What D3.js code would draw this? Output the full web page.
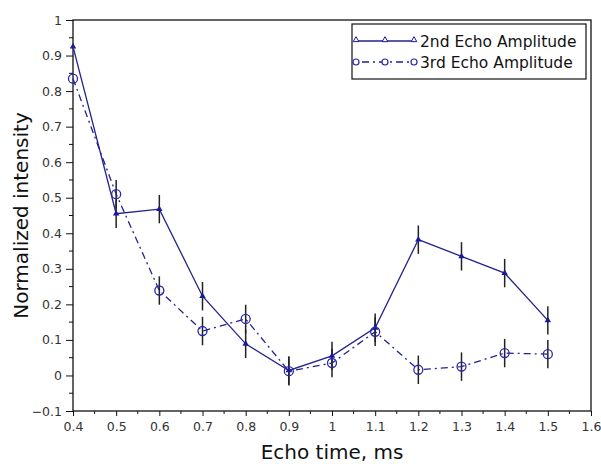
<!DOCTYPE html>
<html>
<head>
<meta charset="utf-8">
<script src="https://cdn.jsdelivr.net/npm/d3@7"></script>
<style>
  body { margin: 0; background: #fff; }
  text { font-family: "DejaVu Sans", sans-serif; }
</style>
</head>
<body>
<svg id="chart" width="601" height="464"></svg>
<script>
// Data
const echoTimes = [0.4, 0.5, 0.6, 0.7, 0.8, 0.9, 1.0, 1.1, 1.2, 1.3, 1.4, 1.5];
const echo2 = [0.925, 0.455, 0.468, 0.223, 0.089, 0.014, 0.055, 0.134, 0.382, 0.335, 0.288, 0.155];
const echo3 = [0.835, 0.51, 0.239, 0.125, 0.159, 0.012, 0.035, 0.123, 0.016, 0.025, 0.063, 0.06];
const err2 = [0, 0.04, 0.04, 0.04, 0.04, 0.04, 0.04, 0.04, 0.04, 0.04, 0.04, 0.04];
const err3 = [0, 0.04, 0.04, 0.04, 0.04, 0.04, 0.04, 0.04, 0.04, 0.04, 0.04, 0.04];
const xTicks = [0.4, 0.5, 0.6, 0.7, 0.8, 0.9, 1, 1.1, 1.2, 1.3, 1.4, 1.5, 1.6];
const yTicks = [-0.1, 0, 0.1, 0.2, 0.3, 0.4, 0.5, 0.6, 0.7, 0.8, 0.9, 1];
const seriesNames = ["2nd Echo Amplitude", "3rd Echo Amplitude"];

const svg = d3.select("#chart");
const margin = { top: 20, right: 10, bottom: 53, left: 73 };
const width = 601, height = 464;
const lineColor = "#23238c";

const x = d3.scaleLinear().domain([0.4, 1.6]).range([margin.left, width - margin.right]);
const y = d3.scaleLinear().domain([-0.1, 1]).range([height - margin.bottom, margin.top]);

// Frame
svg.append("rect")
  .attr("x", x(0.4)).attr("y", y(1))
  .attr("width", x(1.6) - x(0.4)).attr("height", y(-0.1) - y(1))
  .attr("fill", "none").attr("stroke", "#111").attr("stroke-width", 1.3);

// Minor ticks
const xMinor = d3.range(0.45, 1.6, 0.1);
const yMinor = d3.range(-0.05, 1, 0.1);
svg.append("g").selectAll("line").data(xMinor).join("line")
  .attr("x1", d => x(d)).attr("x2", d => x(d))
  .attr("y1", y(-0.1)).attr("y2", y(-0.1) + 3)
  .attr("stroke", "#111");
svg.append("g").selectAll("line").data(yMinor).join("line")
  .attr("x1", x(0.4) - 4).attr("x2", x(0.4))
  .attr("y1", d => y(d)).attr("y2", d => y(d))
  .attr("stroke", "#111");

// Axes
const xAxis = svg.append("g")
  .attr("transform", `translate(0,${y(-0.1)})`)
  .call(d3.axisBottom(x).tickValues(xTicks).tickSize(5).tickPadding(6).tickFormat(d3.format("")));
const yAxis = svg.append("g")
  .attr("transform", `translate(${x(0.4)},0)`)
  .call(d3.axisLeft(y).tickValues(yTicks).tickSize(7).tickPadding(4).tickFormat(d3.format("")));
[xAxis, yAxis].forEach(g => {
  g.select(".domain").remove();
  g.selectAll(".tick line").attr("stroke", "#111");
  g.selectAll(".tick text").attr("fill", "#333").style("font-size", "12.5px")
    .style("font-family", "DejaVu Sans, sans-serif");
});
yAxis.selectAll(".tick text").text(d => d < 0 ? "\u22120.1" : d3.format("")(d));

// Axis titles
svg.append("text")
  .attr("x", (x(0.4) + x(1.6)) / 2).attr("y", 459)
  .attr("text-anchor", "middle").style("font-size", "20px").attr("fill", "#111")
  .text("Echo time, ms");
svg.append("text")
  .attr("transform", `translate(28,${(y(1) + y(-0.1)) / 2}) rotate(-90)`)
  .attr("text-anchor", "middle").style("font-size", "20px").attr("fill", "#111")
  .text("Normalized intensity");

const pts2 = echoTimes.map((t, i) => ({ t, v: echo2[i], e: err2[i] }));
const pts3 = echoTimes.map((t, i) => ({ t, v: echo3[i], e: err3[i] }));
const line = d3.line().x(d => x(d.t)).y(d => y(d.v));

// Error bars
[pts2, pts3].forEach(pts => {
  svg.append("g").selectAll("line").data(pts.filter(d => d.e > 0)).join("line")
    .attr("x1", d => x(d.t)).attr("x2", d => x(d.t))
    .attr("y1", d => y(d.v - d.e)).attr("y2", d => y(d.v + d.e))
    .attr("stroke", "#222").attr("stroke-width", 1.5);
});

// Lines
svg.append("path").datum(pts2).attr("d", line)
  .attr("fill", "none").attr("stroke", lineColor).attr("stroke-width", 1.3);
svg.append("path").datum(pts3).attr("d", line)
  .attr("fill", "none").attr("stroke", lineColor).attr("stroke-width", 1.3)
  .attr("stroke-dasharray", "7,4,2,4");

// Markers
const tri = d3.symbol().type(d3.symbolTriangle).size(18);
svg.append("g").selectAll("path").data(pts2).join("path")
  .attr("transform", d => `translate(${x(d.t)},${y(d.v)})`)
  .attr("d", tri).attr("fill", "#1a1aa0");
svg.append("g").selectAll("circle").data(pts3).join("circle")
  .attr("cx", d => x(d.t)).attr("cy", d => y(d.v)).attr("r", 4.5)
  .attr("fill", "none").attr("stroke", "#2828a8").attr("stroke-width", 1.3);

// Legend
const lg = svg.append("g");
lg.append("rect").attr("x", 352).attr("y", 24).attr("width", 234).attr("height", 55)
  .attr("fill", "#fff").attr("stroke", "#111").attr("stroke-width", 1.2);
const lx = [356, 385, 414];
lg.append("line").attr("x1", lx[0]).attr("x2", lx[2]).attr("y1", 41).attr("y2", 41)
  .attr("stroke", lineColor).attr("stroke-width", 1.3);
lg.selectAll(".lt").data(lx).join("path").attr("class", "lt")
  .attr("transform", d => `translate(${d},40)`)
  .attr("d", d3.symbol().type(d3.symbolTriangle).size(14))
  .attr("fill", "#fff").attr("stroke", "#1a1aa0");
lg.append("line").attr("x1", lx[0] + 3).attr("x2", lx[2] - 3).attr("y1", 62).attr("y2", 62)
  .attr("stroke", lineColor).attr("stroke-width", 1.3).attr("stroke-dasharray", "7,4,2,4")
  .attr("stroke-dashoffset", -3);
lg.selectAll(".lc").data(lx).join("circle").attr("class", "lc")
  .attr("cx", d => d).attr("cy", 62).attr("r", 3)
  .attr("fill", "#fff").attr("stroke", "#2828a8").attr("stroke-width", 1.2);
lg.selectAll(".ltxt").data(seriesNames).join("text").attr("class", "ltxt")
  .attr("x", 420).attr("y", (d, i) => 47 + i * 21)
  .style("font-size", "15.5px").attr("fill", "#111")
  .text(d => d);
</script>
</body>
</html>
